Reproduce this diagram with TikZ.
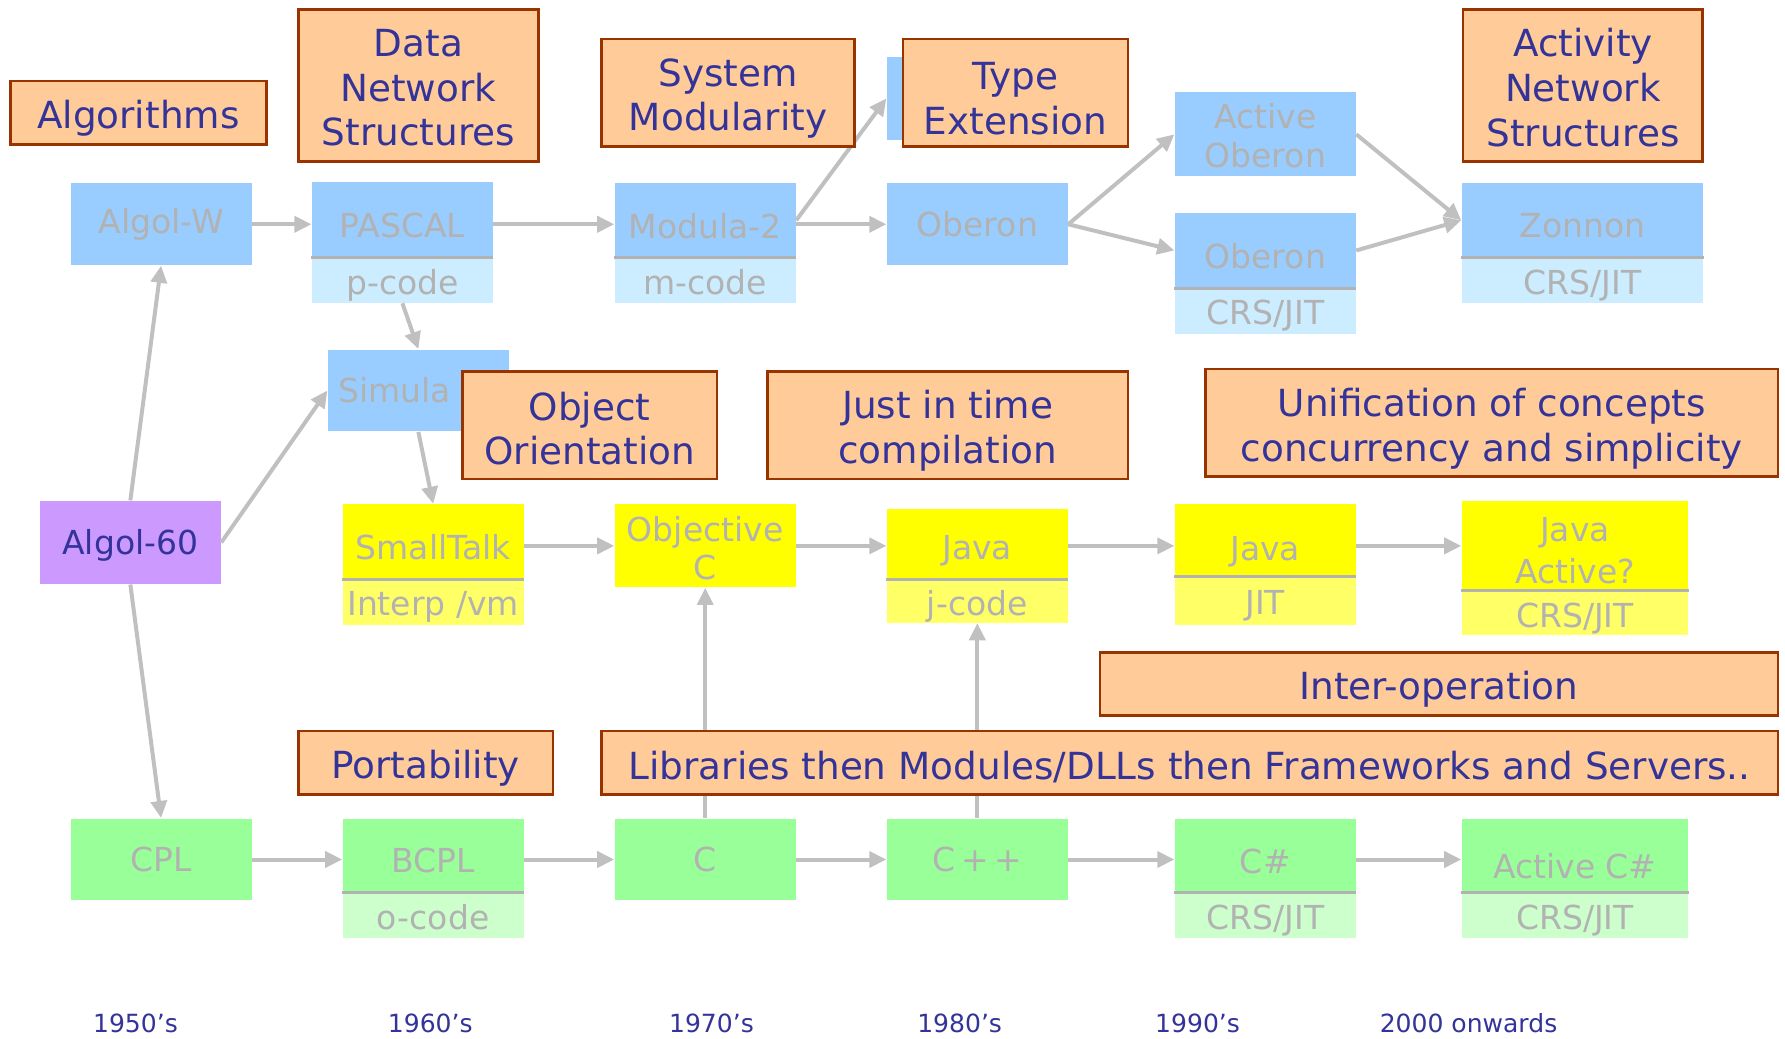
\documentclass[tikz,border=0pt]{standalone}
\usepackage{fontspec}
\setmainfont{DejaVu Sans}
\usetikzlibrary{arrows.meta}
\definecolor{blueM}{HTML}{99CCFF}
\definecolor{blueS}{HTML}{CCECFF}
\definecolor{yelM}{HTML}{FFFF00}
\definecolor{yelS}{HTML}{FFFF66}
\definecolor{grnM}{HTML}{99FF99}
\definecolor{grnS}{HTML}{CCFFCC}
\definecolor{purp}{HTML}{CC99FF}
\definecolor{orng}{HTML}{FFCC99}
\definecolor{brd}{HTML}{993300}
\definecolor{txtblue}{HTML}{333399}
\definecolor{txtgray}{HTML}{B2B2B2}
\definecolor{arrgray}{HTML}{C0C0C0}
\newcommand\lw[2]{\raisebox{-#1}[\height][\depth]{#2}}
\tikzset{
  lang/.style={rectangle, draw=none, inner sep=0pt, text=txtgray, font=\fontsize{14.5}{17}\selectfont, align=center, minimum width=79.5pt},
  bluebox/.style={lang, fill=blueM},
  bluesub/.style={lang, fill=blueS},
  yelbox/.style={lang, fill=yelM},
  yelsub/.style={lang, fill=yelS},
  grnbox/.style={lang, fill=grnM},
  grnsub/.style={lang, fill=grnS},
  purpbox/.style={lang, fill=purp, text=txtblue},
  theme/.style={rectangle, draw=brd, line width=1.2pt, fill=orng, text=txtblue, font=\fontsize{16.4}{19.7}\selectfont, align=center, inner sep=0pt},
  arr/.style={draw=arrgray, line width=1.75pt, -{Triangle[length=7.5pt,width=7pt]}},
  sepline/.style={draw=txtgray, line width=1.3pt},
  year/.style={text=txtblue, font=\fontsize{11}{13}\selectfont, inner sep=0pt}
}
\begin{document}
\begin{tikzpicture}[x=0.5pt,y=-0.5pt]
\useasboundingbox (0,0) rectangle (1568,912);
% ---- blue row
\node[bluebox, minimum height=36pt] (algolw) at (141.5,197) {Algol-W};
\node[bluebox, minimum height=33pt] (pascal) at (353.5,193) {\lw{2.5pt}{PASCAL}};
\node[bluesub, minimum height=20pt] (pcode) at (353.5,246) {\lw{2.2pt}{p-code}};
\node[bluebox, minimum height=32.5pt] (modula) at (619.5,193.5) {\lw{2.5pt}{Modula-2}};
\node[bluesub, minimum height=20pt] (mcode) at (619.5,246) {\lw{1pt}{m-code}};
\node[bluebox, minimum height=36.5pt] (hidden) at (858.5,86.5) {};
\node[bluebox, minimum height=36pt] (oberon) at (858.5,197) {Oberon};
\node[bluebox, minimum height=37pt] (activeob) at (1111.5,118) {\lw{0.5pt}{Active}\\\lw{0.5pt}{Oberon}};
\node[bluebox, minimum height=33pt] (oberon2) at (1111.5,220) {\lw{2.5pt}{Oberon}};
\node[bluesub, minimum height=20pt] (crs1) at (1111.5,273) {\lw{2pt}{CRS/JIT}};
\node[bluebox, minimum height=32.5pt, minimum width=106pt] (zonnon) at (1390,193.5) {\lw{2.5pt}{Zonnon}};
\node[bluesub, minimum height=20pt, minimum width=106pt] (crs2) at (1390,246) {\lw{2.5pt}{CRS/JIT}};
\node[bluebox, minimum height=36pt, text width=70.5pt, inner xsep=4.5pt, align=left] (simula) at (367.5,343) {Simula};
% ---- purple
\node[purpbox, minimum height=36.5pt] (algol60) at (114.5,476.5) {\lw{1.5pt}{Algol-60}};
% ---- yellow row
\node[yelbox, minimum height=33pt] (smalltalk) at (380.5,476) {\lw{2.5pt}{SmallTalk}};
\node[yelsub, minimum height=20pt] (interp) at (380.5,529) {\lw{2pt}{Interp /vm}};
\node[yelbox, minimum height=36.5pt] (objc) at (619.5,479.5) {\lw{1pt}{Objective}\\\lw{1pt}{C}};
\node[yelbox, minimum height=31pt] (java) at (858.5,478) {\lw{3pt}{Java}};
\node[yelsub, minimum height=19pt] (jcode) at (858.5,528) {\lw{2.5pt}{j-code}};
\node[yelbox, minimum height=31.5pt] (java2) at (1111.5,474.5) {\lw{5pt}{Java}};
\node[yelsub, minimum height=21.5pt] (jit) at (1111.5,527.5) {\lw{2.5pt}{JIT}};
\node[yelbox, minimum height=39pt, minimum width=99.5pt] (javaact) at (1383.5,479) {\lw{1.5pt}{Java}\\\lw{3pt}{Active?}};
\node[yelsub, minimum height=20pt, minimum width=99.5pt] (crs3) at (1383.5,538) {\lw{2.5pt}{CRS/JIT}};
% ---- green row
\node[grnbox, minimum height=36pt] (cpl) at (141.5,755) {CPL};
\node[grnbox, minimum height=32.5pt] (bcpl) at (380.5,751.5) {\lw{2.2pt}{BCPL}};
\node[grnsub, minimum height=20pt] (ocode) at (380.5,804) {\lw{1pt}{o-code}};
\node[grnbox, minimum height=36pt] (c) at (619.5,755) {C};
\node[grnbox, minimum height=36pt] (cpp) at (858.5,755) {C\,+\,+};
\node[grnbox, minimum height=32.5pt] (cs) at (1111.5,751.5) {\lw{2.5pt}{C\#}};
\node[grnsub, minimum height=20pt] (crs4) at (1111.5,804) {\lw{2.5pt}{CRS/JIT}};
\node[grnbox, minimum height=32.5pt, minimum width=99.5pt] (activecs) at (1383.5,751.5) {\lw{4.5pt}{Active C\#}};
\node[grnsub, minimum height=20pt, minimum width=99.5pt] (crs5) at (1383.5,804) {\lw{2.5pt}{CRS/JIT}};
% ---- separators
\foreach \n in {pascal,modula,oberon2,zonnon,smalltalk,java,java2,javaact,bcpl,cs,activecs}
  \draw[sepline] (\n.south west) -- (\n.south east);
% ---- arrows
\draw[arr] (algolw.east) -- (algolw.east -| pascal.west);
\draw[arr] (algolw.east -| pascal.east) -- (algolw.east -| modula.west);
\draw[arr] (algolw.east -| modula.east) -- (oberon.west);
\draw[arr] (modula.east) -- (hidden.west);
\draw[arr] (oberon.east) -- (activeob.west);
\draw[arr] (oberon.east) -- (oberon2.west);
\draw[arr] (activeob.east) -- (zonnon.west);
\draw[arr] (oberon2.east) -- (zonnon.west);
\draw[arr] (pcode.south) -- (simula.north);
\draw[arr] (simula.south) -- (smalltalk.north);
\draw[arr] (algol60.north) -- (algolw.south);
\draw[arr] (algol60.east) -- (simula.west);
\draw[arr] (algol60.south) -- (cpl.north);
\draw[arr] (smalltalk.east |- objc.west) -- (objc.west);
\draw[arr] (objc.east) -- (objc.east -| java.west);
\draw[arr] (objc.east -| java.east) -- (objc.east -| java2.west);
\draw[arr] (objc.east -| java2.east) -- (objc.east -| javaact.west);
\draw[arr] (cpl.east) -- (cpl.east -| bcpl.west);
\draw[arr] (cpl.east -| bcpl.east) -- (c.west);
\draw[arr] (c.east) -- (cpp.west);
\draw[arr] (cpp.east) -- (cpp.east -| cs.west);
\draw[arr] (cpp.east -| cs.east) -- (cpp.east -| activecs.west);
\draw[arr] (c.north) -- (objc.south);
\draw[arr] (cpp.north) -- (jcode.south);
% ---- theme boxes
\node[theme, minimum width=112.3pt, minimum height=27.8pt] (algorithms) at (121.5,99) {\lw{2.5pt}{Algorithms}};
\node[theme, minimum width=105.3pt, minimum height=66.8pt] (datanet) at (367.5,75) {\lw{1pt}{Data}\\\lw{1pt}{Network}\\\lw{1pt}{Structures}};
\node[theme, minimum width=111.3pt, minimum height=47.3pt] (sysmod) at (639.5,81.5) {\lw{2.5pt}{System}\\\lw{2.5pt}{Modularity}};
\node[theme, minimum width=98.8pt, minimum height=47.3pt] (typeext) at (892,81.5) {\lw{2.5pt}{Type}\\\lw{2.5pt}{Extension}};
\node[theme, minimum width=105.3pt, minimum height=66.8pt] (activity) at (1390.5,75) {\lw{1pt}{Activity}\\\lw{1pt}{Network}\\\lw{1pt}{Structures}};
\node[theme, minimum width=111.8pt, minimum height=47.3pt] (objor) at (518,373.5) {\lw{1.5pt}{Object}\\\lw{1.5pt}{Orientation}};
\node[theme, minimum width=158.3pt, minimum height=47.3pt] (jitc) at (832.5,373.5) {\lw{2.5pt}{Just in time}\\\lw{2.5pt}{compilation}};
\node[theme, minimum width=251.3pt, minimum height=47.3pt] (unif) at (1310.5,371.5) {\lw{2.5pt}{Unification of concepts}\\\lw{2.5pt}{concurrency and simplicity}};
\node[theme, minimum width=297.8pt, minimum height=27.8pt] (interop) at (1264,601) {\lw{2pt}{Inter-operation}};
\node[theme, minimum width=111.8pt, minimum height=27.8pt] (portab) at (374,670) {\lw{2.5pt}{Portability}};
\node[theme, minimum width=516.8pt, minimum height=27.8pt] (libs) at (1045,670) {\lw{2pt}{Libraries then Modules/DLLs then Frameworks and Servers..}};
% ---- years
\node[year] (y50) at (119,899) {1950's};
\node[year] (y60) at (378,899) {1960's};
\node[year] (y70) at (625,899) {1970's};
\node[year] (y80) at (843,899) {1980's};
\node[year] (y90) at (1052,899) {1990's};
\node[year] (y00) at (1290,899) {2000 onwards};
\end{tikzpicture}
\end{document}
